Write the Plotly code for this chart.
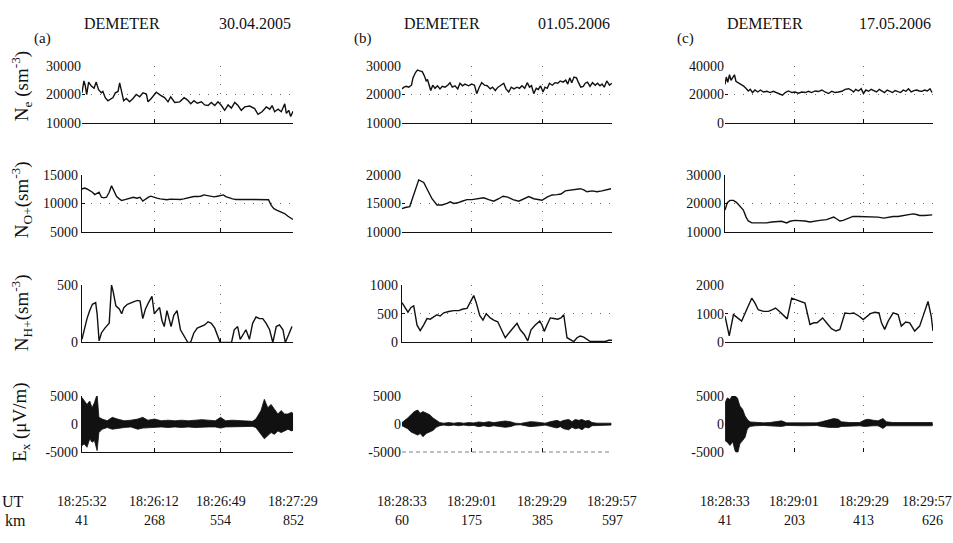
import plotly.graph_objects as go

SERIF = "Liberation Serif, Times New Roman, DejaVu Serif, serif"
INK = "#111111"

# ---------------- pass (a): 30.04.2005, seconds after 18:25:32 UT ----------------
a_ne_t = [0, 1.1, 1.8, 2.6, 3.7, 5.2, 6.7, 7.9, 9.2, 10.7, 11.6, 12.9, 14.4, 15.9, 17.2,
          18.5, 20.0, 20.9, 21.8, 23.1, 24.6, 26.4, 28.3, 30.1, 32.0, 33.8, 35.7, 36.6, 38.4, 41.2,
          43.6, 45.8, 47.7, 49.2, 51.4, 54.2, 56.6, 58.4, 60.3, 62.1, 63.9, 66.2, 68.0, 69.9, 71.7,
          73.6, 75.4, 77.3, 79.1, 81.0, 82.8, 84.7, 86.5, 88.3, 90.2, 93.0, 95.7, 97.6, 99.8, 102.2,
          104.1, 105.4, 106.8, 108.7, 110.5, 112.4, 113.3, 114.6, 115.7, 117]
a_ne = [20600, 24800, 23300, 20000, 24400, 23000, 22200, 24400, 21700, 20600, 21100, 18900, 17800, 18300, 18900,
        20600, 21100, 24100, 21100, 17800, 18600, 17400, 18600, 20000, 19200, 20600, 20200, 17400, 18600, 20800,
        19700, 18900, 17400, 19200, 17200, 17400, 18900, 18100, 16700, 17800, 16900, 17400, 16300, 16100, 17200,
        16100, 17400, 16100, 14400, 16300, 15200, 17200, 16100, 14400, 15600, 15900, 15000, 13000, 13900, 15600,
        14800, 16100, 13900, 14800, 13900, 16700, 13300, 14400, 12200, 14100]

a_no_t = [0, 1.5, 2.8, 4.3, 5.8, 7.1, 8.4, 9.5, 10.8, 12.1, 13.6, 15.1, 16.4, 17.7, 19.2, 20.7, 22.0,
          23.3, 24.8, 26.6, 28.5, 30.4, 32.2, 33.7, 35.2, 36.9, 38.2, 39.7, 41.5, 43.4, 45.3, 47.1,
          49.0, 50.9, 52.7, 54.6, 56.4, 58.3, 60.2, 62.0, 63.9, 65.8, 67.6, 69.5, 71.4, 73.2, 75.1,
          76.9, 78.4, 79.7, 81.6, 83.5, 85.3, 88.1, 90.9, 93.7, 96.5, 99.3, 102.1, 103.4, 104.9,
          106.4, 108.2, 110.5, 112.3, 114.2, 115.7, 117]
a_no = [12560, 12730, 12560, 12270, 11980, 11570, 11800, 11980, 11100, 10990, 11100, 11980, 13140, 12270,
        11220, 10810, 10520, 10640, 10810, 10990, 11100, 10930, 11100, 10410, 10810, 11100, 11280, 11100,
        10930, 10810, 10700, 10640, 10760, 10760, 10640, 10700, 10810, 10990, 11100, 11220, 11220, 11280,
        11510, 11400, 11280, 11160, 11280, 11340, 11510, 11220, 10990, 10810, 10700, 10760, 10700, 10700,
        10700, 10700, 10700, 10640, 9650, 9070, 8780, 8490, 8200, 7730, 7330, 7150]

a_nh_t = [0, 1.5, 2.8, 4.3, 5.8, 7.6, 8.4, 9.5, 10.8, 12.7, 14.0, 15.1, 16.4, 17.3, 18.8, 20.7, 22.0,
          23.3, 25.2, 27.0, 28.9, 30.7, 32.2, 33.7, 35.2, 36.9, 38.8, 40.1, 41.5, 43.0, 44.3, 45.6,
          47.1, 48.3, 49.4, 50.9, 52.7, 54.6, 57.4, 58.7, 60.2, 62.0, 63.9, 65.8, 68.0, 69.9, 71.7,
          73.6, 75.1, 76.6, 78.8, 80.7, 82.9, 84.4, 86.3, 87.7, 89.1, 90.9, 92.8, 94.6, 96.5, 98.4,
          100.2, 102.1, 104.0, 105.8, 107.7, 109.5, 111.4, 112.7, 114.6, 116.4]
a_nh = [28, 139, 208, 278, 333, 347, 250, 14, 83, 125, 153, 167, 500, 444, 319, 292, 250, 306, 333, 347,
        356, 367, 361, 208, 292, 347, 403, 250, 278, 306, 194, 139, 278, 208, 139, 236, 278, 111, 42, 0,
        0, 83, 125, 139, 153, 181, 167, 125, 56, 0, 0, 0, 0, 111, 139, 28, 69, 111, 28, 167,
        222, 208, 208, 167, 111, 0, 139, 153, 111, 0, 69, 139]

a_ex_t = [0, 1.3, 2.8, 4.3, 5.6, 6.9, 8.4, 9.4, 11.2, 14.0, 16.8, 19.7, 23.4, 27.1, 30.9, 33.7, 36.5,
          40.2, 44.0, 47.7, 51.5, 55.2, 59.0, 62.7, 66.5, 70.2, 73.9, 76.8, 79.6, 83.3, 87.0, 90.8,
          94.5, 96.4, 99.2, 101.1, 103.0, 104.8, 106.7, 108.6, 110.4, 112.3, 114.2, 116.1, 117]
a_ex_hi = [4700, 4100, 3500, 4100, 2900, 3800, 5300, 1200, 900, 600, 1200, 900, 600, 700, 900, 1200, 700,
           900, 600, 700, 600, 700, 600, 700, 800, 700, 600, 1200, 600, 700, 600, 500, 500, 900, 2400,
           4400, 2900, 3500, 2600, 1800, 2400, 1800, 1800, 2100, 1900]
a_ex_lo = [-3800, -3500, -4100, -2600, -3200, -2900, -4700, -1500, -900, -600, -900, -700, -600, -500,
           -900, -700, -600, -600, -500, -600, -500, -600, -500, -600, -600, -500, -500, -700, -500,
           -500, -400, -400, -400, -600, -1800, -2600, -2100, -1500, -1800, -1200, -1500, -1200, -900,
           -1200, -1100]

# ---------------- pass (b): 01.05.2006, seconds after 18:28:33 UT ----------------
b_ne_t = [0, 0.8, 1.7, 2.7, 3.8, 4.4, 5.4, 6.2, 7.1, 8.1, 8.9, 9.7, 10.2, 10.9, 11.5, 12.3, 13.2, 14.2,
          15.2, 16.1, 17.2, 18.3, 19.2, 20.1, 21.2, 22.3, 23.2, 24.2, 25.2, 26.6, 27.9, 29.0, 29.9,
          30.9, 31.9, 33.0, 34.1, 35.3, 36.2, 37.3, 38.4, 39.3, 40.7, 41.6, 42.7, 43.7, 44.8, 46.0,
          47.0, 48.0, 49.1, 50.1, 51.0, 51.8, 52.7, 53.7, 54.5, 55.4, 56.4, 57.2, 58.1, 59.0, 60.1,
          61.2, 62.3, 63.3, 64.4, 65.5, 66.3, 67.1, 67.9, 68.8, 69.8, 70.6, 71.5, 72.5, 73.3, 74.2,
          75.2, 76.2, 77.3, 78.2, 79.2, 80.0, 80.9, 81.9, 83.0, 83.9]
b_ne = [22000, 22600, 22900, 22600, 23300, 25900, 27800, 28700, 28400, 28100, 26700, 24800, 25300, 22900,
        21400, 23300, 22200, 23100, 22000, 22900, 22600, 23300, 24200, 22600, 23100, 22000, 24000, 23100,
        23700, 23100, 23700, 23300, 20300, 22600, 24200, 23300, 23100, 22000, 22600, 21400, 22600, 23100,
        24000, 22000, 20900, 22600, 22000, 22600, 22200, 23100, 22200, 24200, 22600, 23100, 20300, 22200,
        21800, 23100, 20900, 22600, 22200, 24000, 23300, 24200, 24000, 24800, 24400, 25100, 23700, 25900,
        24200, 26200, 25900, 24200, 22600, 22900, 24000, 24400, 22900, 24200, 23300, 24000, 23100, 23700,
        22600, 24800, 23300, 24000]

b_no_t = [0, 1.3, 3.1, 4.7, 6.7, 8.7, 10.3, 12.0, 14.0, 16.0, 18.0, 19.3, 20.7, 22.3, 24.0, 26.0, 28.0,
          30.0, 32.7, 34.7, 36.7, 38.7, 40.4, 42.3, 44.4, 46.7, 48.7, 50.7, 52.7, 54.3, 56.0, 58.0,
          60.0, 62.0, 63.6, 65.3, 67.3, 69.3, 71.3, 72.7, 74.0, 76.0, 78.0, 80.0, 82.0, 83.6]
b_no = [14060, 14280, 14440, 16390, 19170, 18720, 17220, 15830, 14720, 14720, 15000, 15280, 15000, 15110,
        15390, 15670, 15670, 15830, 16000, 15670, 15390, 15830, 16280, 16110, 15670, 15390, 15830, 16220,
        15830, 15670, 15560, 16110, 16500, 16560, 16670, 17220, 17390, 17500, 17610, 17390, 17060, 17220,
        17060, 17220, 17390, 17610]

b_nh_t = [0, 1.3, 2.4, 3.6, 4.7, 6.0, 7.3, 8.7, 10.0, 11.3, 12.7, 14.0, 15.3, 16.7, 18.7, 20.7, 22.7,
          24.4, 26.0, 27.3, 28.7, 29.7, 31.1, 32.4, 33.7, 35.3, 36.7, 38.3, 40.0, 41.3, 43.1, 44.7,
          46.0, 47.3, 48.9, 50.3, 51.6, 53.3, 55.1, 56.0, 56.9, 58.0, 59.3, 60.7, 62.3, 63.6, 64.7,
          66.0, 67.3, 68.7, 70.0, 71.3, 72.7, 74.0, 75.3, 77.3, 79.3, 81.3, 82.7, 84.0]
b_nh = [694, 611, 528, 611, 639, 306, 206, 306, 417, 406, 444, 483, 461, 517, 539, 556, 556, 583, 594, 694,
        817, 694, 472, 389, 500, 428, 389, 361, 206, 83, 183, 261, 333, 222, 139, 28, 222, 306, 372, 306,
        194, 306, 428, 417, 406, 428, 483, 83, 56, 17, 83, 111, 94, 56, 17, 17, 17, 17, 39, 39]

b_ex_t = [0, 0.9, 2.3, 3.6, 4.9, 6.3, 7.3, 8.4, 9.7, 11.1, 12.4, 13.7, 15.1, 16.7, 18.7, 20.7, 22.7,
          24.7, 26.7, 28.7, 30.7, 32.7, 34.7, 36.7, 39.3, 41.3, 43.3, 45.3, 47.3, 49.3, 51.3, 53.3,
          55.3, 57.3, 59.3, 60.7, 62.0, 63.3, 64.7, 66.7, 68.0, 69.3, 70.7, 72.0, 73.3, 74.7, 76.0,
          78.0, 80.7, 83.6]
b_ex_hi = [280, 560, 1110, 1670, 2220, 2500, 1940, 2220, 1940, 1670, 1110, 670, 280, 170, 280, 170, 280,
           170, 280, 220, 390, 280, 440, 280, 390, 560, 440, 170, 110, 280, 440, 390, 280, 170, 440, 560,
           670, 440, 670, 830, 440, 830, 670, 830, 560, 670, 280, 170, 170, 170]
b_ex_lo = [-280, -440, -830, -1390, -1670, -1940, -1670, -2220, -1670, -1390, -1110, -560, -280, -170,
           -280, -170, -280, -170, -280, -220, -440, -280, -440, -280, -440, -560, -440, -170, -110, -280,
           -440, -390, -280, -170, -440, -560, -670, -440, -830, -1000, -560, -830, -670, -1000, -560,
           -670, -280, -170, -170, -170]

# ---------------- pass (c): 17.05.2006, seconds after 18:28:33 UT ----------------
c_ne_t = [0, 0.5, 1.1, 1.8, 2.4, 3.1, 3.8, 4.4, 5.4, 6.5, 7.5, 8.6, 9.4, 10.2, 11.1, 12.1, 13.2, 14.3,
          15.5, 16.9, 18.2, 19.5, 20.9, 22.2, 23.2, 24.3, 25.6, 27.0, 28.3, 29.7, 31.0, 32.4, 33.7,
          35.0, 36.4, 37.7, 39.1, 40.4, 41.8, 43.1, 44.5, 45.8, 47.2, 48.5, 49.9, 51.0, 51.9, 52.8,
          53.9, 55.0, 55.9, 56.9, 58.0, 59.0, 60.1, 61.2, 62.3, 63.4, 64.4, 65.5, 66.6, 67.7, 68.7,
          69.8, 70.9, 72.0, 73.1, 74.1, 75.2, 76.3, 77.4, 78.5, 79.5, 80.6, 81.7, 82.8, 83.6]
c_ne = [27100, 32400, 28700, 34000, 30100, 31700, 34000, 29400, 28300, 27100, 26000, 24100, 22500, 23700,
        21400, 23200, 21800, 23200, 21800, 22300, 21400, 22300, 21400, 20700, 19500, 21400, 22500, 21400,
        21800, 20900, 21800, 21400, 22300, 21400, 22500, 22100, 23200, 21800, 20700, 22300, 21400, 21800,
        22300, 23700, 24100, 23200, 21800, 23700, 22500, 24100, 20700, 23200, 22300, 23700, 22500, 21800,
        23700, 22300, 21400, 23200, 22300, 21400, 22800, 22300, 21400, 23200, 22300, 24100, 21800, 22800,
        23200, 22500, 22300, 23200, 22500, 24100, 21400]

c_no_t = [0, 0.9, 2.0, 3.4, 4.7, 6.0, 7.4, 8.5, 9.4, 10.8, 12.8, 14.8, 16.8, 18.8, 20.8, 22.8, 24.9,
          26.2, 28.2, 30.2, 32.3, 34.3, 36.3, 38.3, 41.0, 42.3, 43.9, 45.0, 46.4, 47.7, 49.7, 51.7,
          53.8, 55.8, 57.8, 59.8, 61.8, 64.1, 65.9, 67.9, 69.9, 71.9, 73.9, 75.9, 77.3, 78.6, 80.6,
          82.4, 83.7]
c_no = [17660, 20290, 21090, 21090, 20290, 19140, 17660, 15140, 13770, 13090, 13090, 13090, 13090, 13430,
        13660, 13660, 13090, 13660, 14000, 14000, 13770, 13430, 13770, 14000, 14230, 14570, 15140, 14570,
        13770, 14000, 14570, 15370, 15370, 15370, 15140, 15370, 15140, 14800, 15140, 15370, 15370, 15600,
        15940, 16290, 16060, 15710, 15710, 15830, 15940]

c_nh_t = [0, 1.7, 3.4, 5.0, 6.7, 8.7, 10.8, 12.1, 13.4, 15.5, 17.5, 19.2, 20.4, 21.9, 23.5, 25.1, 26.9,
          28.9, 30.9, 32.3, 34.3, 35.9, 37.2, 39.4, 41.0, 43.0, 44.8, 46.4, 48.4, 50.4, 52.0, 54.2,
          55.8, 57.4, 58.7, 60.5, 62.2, 63.2, 64.5, 65.9, 67.9, 69.9, 71.2, 73.0, 74.6, 76.6, 78.6,
          80.2, 82.0, 83.3, 84.0]
c_nh = [914, 229, 971, 857, 743, 1143, 1543, 1371, 1143, 1086, 1086, 1143, 1200, 1086, 971, 823, 1543,
        1486, 1429, 1371, 629, 686, 686, 857, 686, 480, 400, 457, 1029, 1006, 1029, 914, 800, 914, 1006,
        1051, 1029, 686, 457, 743, 1029, 971, 571, 714, 686, 400, 571, 971, 1429, 914, 400]

c_ex_t = [0, 0.9, 2.0, 3.1, 4.0, 5.0, 6.0, 7.1, 8.1, 9.0, 10.1, 12.1, 15.5, 18.1, 22.8, 24.9, 28.9, 31.6,
          37.0, 39.0, 42.3, 43.9, 45.7, 47.0, 50.4, 54.4, 56.4, 57.8, 59.8, 61.8, 63.8, 65.2, 67.9,
          71.9, 75.9, 77.3, 80.0, 83.7]
c_ex_hi = [3780, 4650, 4360, 5200, 5000, 4650, 3200, 2620, 1450, 870, 400, 290, 230, 290, 580, 230, 230,
           290, 230, 410, 870, 990, 870, 410, 290, 290, 750, 870, 700, 580, 990, 410, 290, 290, 290, 410,
           290, 290]
c_ex_lo = [-2910, -3200, -3780, -3100, -4650, -5400, -3490, -2910, -2330, -870, -400, -290, -230, -290,
           -410, -230, -230, -290, -230, -410, -580, -580, -580, -410, -290, -290, -410, -410, -290, -290,
           -760, -290, -290, -290, -290, -410, -290, -290]

# ---------------- axis labelling ----------------
dates = ["30.04.2005", "01.05.2006", "17.05.2006"]
tags = ["(a)", "(b)", "(c)"]
pass_len = [117, 84, 84]
ut_ticks = [[0, 40, 77, 117], [0, 28, 56, 84], [0, 28, 56, 84]]
ut_labels = [["18:25:32", "18:26:12", "18:26:49", "18:27:29"],
             ["18:28:33", "18:29:01", "18:29:29", "18:29:57"],
             ["18:28:33", "18:29:01", "18:29:29", "18:29:57"]]
km_labels = [["41", "268", "554", "852"],
             ["60", "175", "385", "597"],
             ["41", "203", "413", "626"]]

y_ticks = [
    [[10000, 20000, 30000], [10000, 20000, 30000], [0, 20000, 40000]],
    [[5000, 10000, 15000], [10000, 15000, 20000], [10000, 20000, 30000]],
    [[0, 500], [0, 500, 1000], [0, 1000, 2000]],
    [[-5000, 0, 5000], [-5000, 0, 5000], [-5000, 0, 5000]],
]
y_titles = ["N<sub>e</sub> (sm<sup>-3</sup>)", "N<sub>O+</sub>(sm<sup>-3</sup>)",
            "N<sub>H+</sub>(sm<sup>-3</sup>)", "E<sub>x</sub> (μV/m)"]

lines = [
    [(a_ne_t, a_ne), (b_ne_t, b_ne), (c_ne_t, c_ne)],
    [(a_no_t, a_no), (b_no_t, b_no), (c_no_t, c_no)],
    [(a_nh_t, a_nh), (b_nh_t, b_nh), (c_nh_t, c_nh)],
]
waves = [(a_ex_t, a_ex_hi, a_ex_lo), (b_ex_t, b_ex_hi, b_ex_lo), (c_ex_t, c_ex_hi, c_ex_lo)]

# ---------------- layout geometry ----------------
col_dom = [(0.0860, 0.3075), (0.4218, 0.6422), (0.7608, 0.9790)]
row_dom = [(0.7808, 0.8877), (0.5746, 0.6814), (0.3646, 0.4733), (0.1565, 0.2634)]
y_axis_line = [[False, False, False], [True, False, True], [True, True, False], [True, False, False]]
x_axis_line = [[True, True, True], [True, True, True], [True, True, True], [True, False, False]]
row_title_y = [0.85, 0.636, 0.422, 0.214]

fig = go.Figure()
layout = dict(width=953, height=543, margin=dict(l=0, r=0, t=0, b=0),
              paper_bgcolor="white", plot_bgcolor="white", showlegend=False,
              font=dict(family=SERIF, color=INK))
annotations = []
shapes = []

grid = dict(showgrid=True, gridcolor="#6a6a6a", gridwidth=1, griddash="1px,8px", zeroline=False)

for r in range(4):
    for c in range(3):
        n = r * 3 + c + 1
        sfx = "" if n == 1 else str(n)
        xa, ya = "x" + sfx, "y" + sfx
        if r < 3:
            t, v = lines[r][c]
            fig.add_trace(go.Scatter(x=t, y=v, mode="lines", line=dict(color=INK, width=1.4),
                                     xaxis=xa, yaxis=ya, hoverinfo="skip"))
        else:
            t, hi, lo = waves[c]
            fig.add_trace(go.Scatter(x=t + t[::-1], y=hi + lo[::-1], mode="lines", fill="toself",
                                     fillcolor=INK, line=dict(color=INK, width=0.8),
                                     xaxis=xa, yaxis=ya, hoverinfo="skip"))
        yt = y_ticks[r][c]
        layout["xaxis" + sfx] = dict(domain=col_dom[c], anchor=ya, range=[0, pass_len[c]],
                                     tickvals=ut_ticks[c], showticklabels=False, ticks="inside",
                                     ticklen=4, tickcolor=INK, showline=x_axis_line[r][c],
                                     linecolor=INK, linewidth=1.2, fixedrange=True, **grid)
        layout["yaxis" + sfx] = dict(domain=row_dom[r], anchor=xa, range=[yt[0], yt[-1]],
                                     tickvals=yt, ticktext=[str(v) for v in yt], ticks="inside",
                                     ticklen=3, tickcolor=INK, showline=y_axis_line[r][c],
                                     linecolor=INK, linewidth=1.2, fixedrange=True,
                                     tickfont=dict(family=SERIF, size=14, color=INK), **grid)

# dashed lower frame of the Ex panel of pass (b)
shapes.append(dict(type="line", xref="x11 domain", yref="y11", x0=0, x1=1, y0=-5000, y1=-5000,
                   line=dict(color="#000000", width=1.4, dash="4px,3px")))

# column headers
for c in range(3):
    annotations.append(dict(text="DEMETER", x=col_dom[c][0], y=0.969, xref="paper", yref="paper",
                            xanchor="left", yanchor="middle", showarrow=False,
                            font=dict(family=SERIF, size=16, color=INK)))
    annotations.append(dict(text=dates[c], x=col_dom[c][1], y=0.969, xref="paper", yref="paper",
                            xanchor="right", yanchor="middle", showarrow=False,
                            font=dict(family=SERIF, size=16, color=INK)))
    annotations.append(dict(text=tags[c], x=col_dom[c][0] - 0.052, y=0.94, xref="paper", yref="paper",
                            xanchor="left", yanchor="middle", showarrow=False,
                            font=dict(family=SERIF, size=15, color=INK)))
    # UT / km labels under the bottom panels
    xa = "x" + str(10 + c)
    for k, (t, ut, km) in enumerate(zip(ut_ticks[c], ut_labels[c], km_labels[c])):
        shift = -6 if (c == 2 and k == 3) else 0
        annotations.append(dict(text=ut, x=t, y=0.064, xref=xa, yref="paper", xanchor="center",
                                yanchor="middle", showarrow=False, xshift=shift,
                                font=dict(family=SERIF, size=14, color=INK)))
        annotations.append(dict(text=km, x=t, y=0.027, xref=xa, yref="paper", xanchor="center",
                                yanchor="middle", showarrow=False,
                                font=dict(family=SERIF, size=14, color=INK)))

annotations.append(dict(text="UT", x=0.014, y=0.064, xref="paper", yref="paper", xanchor="center",
                        yanchor="middle", showarrow=False, font=dict(family=SERIF, size=16, color=INK)))
annotations.append(dict(text="km", x=0.016, y=0.027, xref="paper", yref="paper", xanchor="center",
                        yanchor="middle", showarrow=False, font=dict(family=SERIF, size=16, color=INK)))

# vertical quantity labels on the left
for r in range(4):
    annotations.append(dict(text=y_titles[r], x=0.022, y=row_title_y[r], xref="paper", yref="paper",
                            xanchor="center", yanchor="middle", textangle=-90, showarrow=False,
                            font=dict(family=SERIF, size=19, color=INK)))

layout["annotations"] = annotations
layout["shapes"] = shapes
fig.update_layout(**layout)
fig.write_html("out.html")
